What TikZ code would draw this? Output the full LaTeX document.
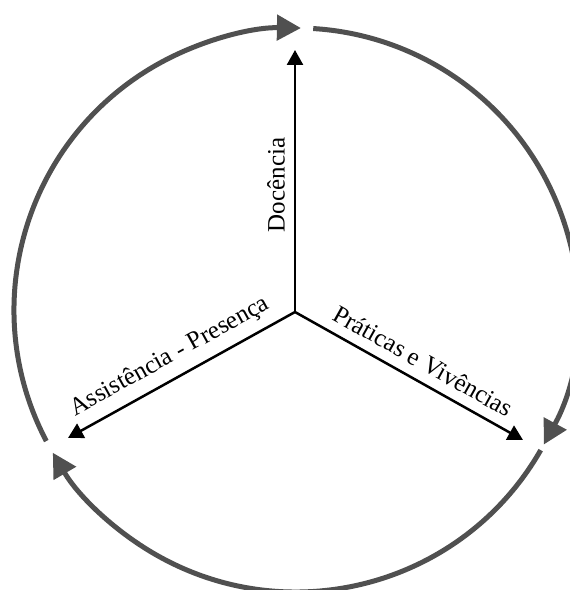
\documentclass[tikz,border=0pt]{standalone}
\usepackage{fontspec}
\setmainfont{Liberation Serif}
\usetikzlibrary{arrows.meta,calc}
\definecolor{arcgray}{RGB}{80,80,80}
\begin{document}
\begin{tikzpicture}[x=1pt,y=1pt,
  axis/.style={line width=2.5pt, -{Triangle[length=15pt,width=16pt]}},
  cyc/.style={arcgray, line width=5pt, -{Triangle[length=24pt,width=25pt]}},
  lbl/.style={font=\fontsize{25}{30}\selectfont, inner sep=2pt}]
\useasboundingbox (0,0) rectangle (570,590);
\coordinate (C) at (296,280);
\coordinate (O) at (295,278);
\coordinate (T) at (295,540);
\coordinate (R) at (523,150);
\coordinate (L) at (68,152);
\draw[axis] (O) -- (T);
\draw[axis] (O) -- (R);
\draw[axis] (O) -- (L);
\draw[cyc] ([shift={(207.7:282)}]C) arc[start angle=207.7, end angle=89, radius=282];
\draw[cyc] ([shift={(86.5:282)}]C) arc[start angle=86.5, end angle=-28.5, radius=282];
\draw[cyc] ([shift={(-29.8:282)}]C) arc[start angle=-29.8, end angle=-149.6, radius=282];
\node[lbl, rotate=90, anchor=south] (doc) at (287,405) {Docência};
\node[lbl, rotate=29, anchor=south] (ass) at ($(O)!0.505!(L) + (119:8)$) {Assistência - Presença};
\node[lbl, rotate=-29.3, anchor=south] (pra) at ($(O)!0.52!(R) + (60.7:9)$) {Práticas e Vivências};
\end{tikzpicture}
\end{document}
